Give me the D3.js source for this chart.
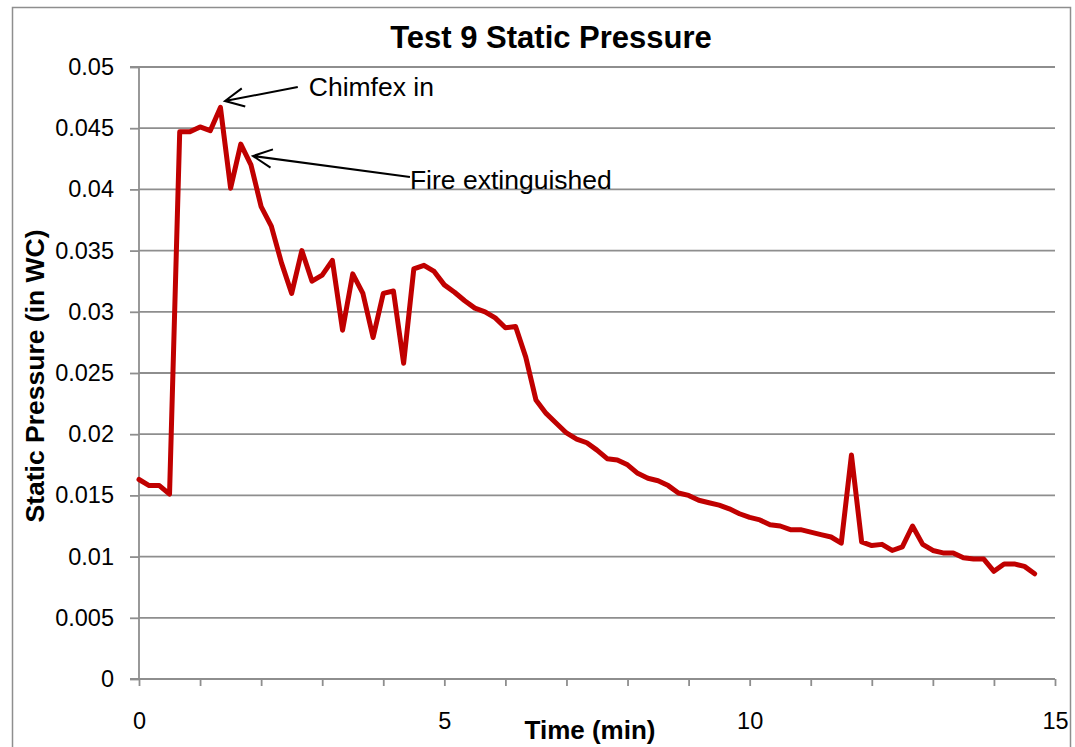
<!DOCTYPE html>
<html>
<head>
<meta charset="utf-8">
<script src="https://cdn.jsdelivr.net/npm/d3@7"></script>
<style>
  html, body { margin: 0; padding: 0; background: #fff; }
  svg { display: block; }
  text { font-family: "Liberation Sans", Arial, sans-serif; fill: #000; }
</style>
</head>
<body>
<svg id="chart" width="1075" height="747"></svg>
<script>
// ---- Data ----
const timeSeconds = [0,10,20,30,40,50,60,70,80,90,100,110,120,130,140,150,160,170,180,190,
  200,210,220,230,240,250,260,270,280,290,300,310,320,330,340,350,360,370,380,390,
  400,410,420,430,440,450,460,470,480,490,500,510,520,530,540,550,560,570,580,590,
  600,610,620,630,640,650,660,670,680,690,700,710,720,730,740,750,760,770,780,790,
  800,810,820,830,840,850,860,870,880];
const staticPressure = [0.0163,0.0158,0.0158,0.0151,0.0447,0.0447,0.0451,0.0448,0.0467,0.0401,
  0.0437,0.0420,0.0386,0.0370,0.0340,0.0315,0.0350,0.0325,0.0330,0.0342,
  0.0285,0.0331,0.0315,0.0279,0.0315,0.0317,0.0258,0.0335,0.0338,0.0333,
  0.0322,0.0316,0.0309,0.0303,0.0300,0.0295,0.0287,0.0288,0.0263,0.0228,
  0.0217,0.0209,0.0201,0.0196,0.0193,0.0187,0.0180,0.0179,0.0175,0.0168,
  0.0164,0.0162,0.0158,0.0152,0.0150,0.0146,0.0144,0.0142,0.0139,0.0135,
  0.0132,0.0130,0.0126,0.0125,0.0122,0.0122,0.0120,0.0118,0.0116,0.0111,
  0.0183,0.0112,0.0109,0.0110,0.0105,0.0108,0.0125,0.0110,0.0105,0.0103,
  0.0103,0.0099,0.0098,0.0098,0.0088,0.0094,0.0094,0.0092,0.0086];
const yTicks = [0,0.005,0.01,0.015,0.02,0.025,0.03,0.035,0.04,0.045,0.05];
const yTickLabels = ["0","0.005","0.01","0.015","0.02","0.025","0.03","0.035","0.04","0.045","0.05"];
const xMinorTicks = [0,1,2,3,4,5,6,7,8,9,10,11,12,13,14,15];
const xTickLabels = [0,5,10,15];
const annotationText = ["Chimfex in","Fire extinguished"];
const annotationTip = [[1.408,0.04722],[1.867,0.04273]];
const annotationTail = [[2.60,0.04837],[4.437,0.04101]];
const annotationLabel = [[2.78,0.04763],[4.437,0.04003]];
const titleText = "Test 9 Static Pressure";
const xTitle = "Time (min)";
const yTitle = "Static Pressure (in WC)";

// ---- Layout ----
const svg = d3.select("#chart");
const mLeft = 139, mRight = 1055, mTop = 67, mBottom = 679;
const x = d3.scaleLinear().domain([0,15]).range([mLeft,mRight]);
const y = d3.scaleLinear().domain([0,0.05]).range([mBottom,mTop]);
const gridColor = "#8e8e8e";

svg.append("rect").attr("x",0).attr("y",0).attr("width",1075).attr("height",747).attr("fill","#fff");
svg.append("rect").attr("x",12.5).attr("y",7.5).attr("width",1058).attr("height",780)
  .attr("fill","none").attr("stroke","#8e8e8e").attr("stroke-width",1.5);

// gridlines
svg.append("g").selectAll("line").data(yTicks.filter(d=>d>0)).join("line")
  .attr("x1",mLeft).attr("x2",mRight)
  .attr("y1",d=>y(d)).attr("y2",d=>y(d))
  .attr("stroke",gridColor).attr("stroke-width",1.8);

// y axis
const yAxis = d3.axisLeft(y).tickValues(yTicks).tickSize(9).tickPadding(16)
  .tickFormat((d,i)=>yTickLabels[i]);
const gy = svg.append("g").attr("transform",`translate(${mLeft},0)`).call(yAxis);
gy.select(".domain").attr("stroke",gridColor).attr("stroke-width",1.8).attr("d",`M-9,${mTop}H0V${mBottom}H-9`);
gy.selectAll(".tick line").attr("stroke",gridColor).attr("stroke-width",1.8);
gy.selectAll(".tick text").style("font-family","'Liberation Sans', Arial, sans-serif")
  .style("font-size","23.5px").attr("fill","#000");

// x axis
const xAxis = d3.axisBottom(x).tickValues(xMinorTicks).tickSize(7).tickPadding(26)
  .tickFormat(d => xTickLabels.includes(d) ? String(d) : "");
const gx = svg.append("g").attr("transform",`translate(0,${mBottom})`).call(xAxis);
gx.select(".domain").attr("stroke",gridColor).attr("stroke-width",1.8).attr("d",`M${mLeft},0H${mRight}`);
gx.selectAll(".tick line").attr("stroke",gridColor).attr("stroke-width",1.8);
gx.selectAll(".tick text").style("font-family","'Liberation Sans', Arial, sans-serif")
  .style("font-size","23.5px").attr("fill","#000");

// data line
const pts = timeSeconds.map((s,i)=>({t:s/60, v:staticPressure[i]}));
const line = d3.line().x(d=>x(d.t)).y(d=>y(d.v));
svg.append("path").datum(pts).attr("d",line)
  .attr("fill","none").attr("stroke","#c00000").attr("stroke-width",5)
  .attr("stroke-linejoin","round").attr("stroke-linecap","round");

// annotations
annotationText.forEach((txt,i)=>{
  const tip = [x(annotationTip[i][0]), y(annotationTip[i][1])];
  const tail = [x(annotationTail[i][0]), y(annotationTail[i][1])];
  const ang = Math.atan2(tail[1]-tip[1], tail[0]-tip[0]);
  const L = 21, a = 26*Math.PI/180;
  const w1 = [tip[0]+L*Math.cos(ang+a), tip[1]+L*Math.sin(ang+a)];
  const w2 = [tip[0]+L*Math.cos(ang-a), tip[1]+L*Math.sin(ang-a)];
  svg.append("path")
    .attr("d",`M${tail[0]},${tail[1]}L${tip[0]},${tip[1]}M${w1[0]},${w1[1]}L${tip[0]},${tip[1]}L${w2[0]},${w2[1]}`)
    .attr("fill","none").attr("stroke","#000").attr("stroke-width",2);
  svg.append("text").attr("x",x(annotationLabel[i][0])).attr("y",y(annotationLabel[i][1]))
    .style("font-size","26.5px").text(txt);
});

// titles
svg.append("text").attr("x",551).attr("y",48).attr("text-anchor","middle")
  .style("font-size","31px").style("font-weight","bold").text(titleText);
svg.append("text").attr("x",590).attr("y",739).attr("text-anchor","middle")
  .style("font-size","26px").style("font-weight","bold").text(xTitle);
svg.append("text").attr("transform",`translate(44,${(mTop+mBottom)/2 + 3}) rotate(-90)`)
  .attr("text-anchor","middle")
  .style("font-size","26.5px").style("font-weight","bold").text(yTitle);
</script>
</body>
</html>
